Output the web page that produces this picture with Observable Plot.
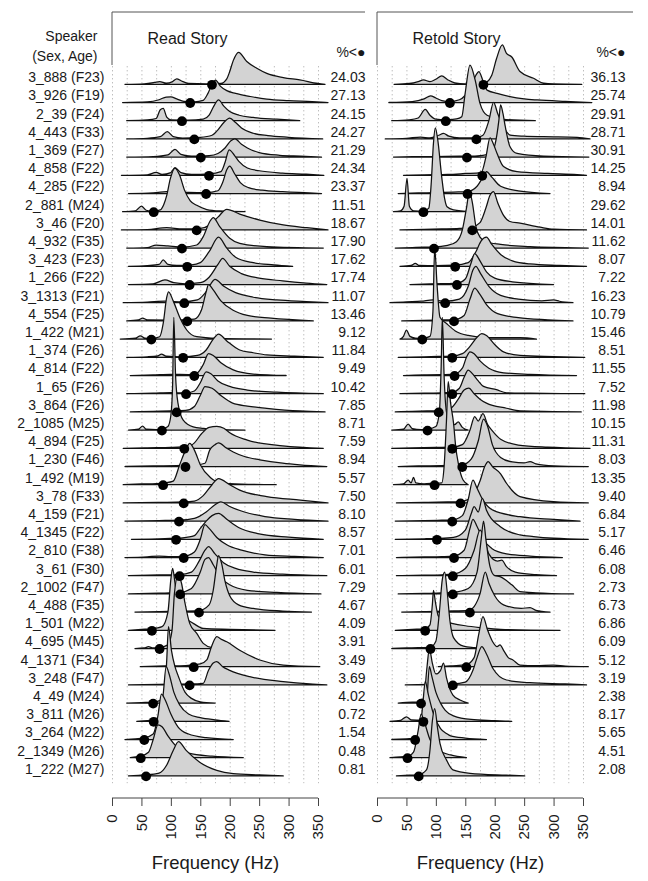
<!DOCTYPE html>
<html><head><meta charset="utf-8">
<script src="https://cdn.jsdelivr.net/npm/d3@7"></script>
<script src="https://cdn.jsdelivr.net/npm/@observablehq/plot@0.6"></script>
<style>
body{margin:0;background:#fff;}
#chart{position:relative;width:648px;height:881px;background:#fff;}
#chart svg{position:absolute;left:0;top:0;}
</style></head><body><div id="chart"></div>
<script>
const speakers = ["3_888 (F23)","3_926 (F19)","2_39 (F24)","4_443 (F33)","1_369 (F27)","4_858 (F22)","4_285 (F22)","2_881 (M24)","3_46 (F20)","4_932 (F35)","3_423 (F23)","1_266 (F22)","3_1313 (F21)","4_554 (F25)","1_422 (M21)","1_374 (F26)","4_814 (F22)","1_65 (F26)","3_864 (F26)","2_1085 (M25)","4_894 (F25)","1_230 (F46)","1_492 (M19)","3_78 (F33)","4_159 (F21)","4_1345 (F22)","2_810 (F38)","3_61 (F30)","2_1002 (F47)","4_488 (F35)","1_501 (M22)","4_695 (M45)","4_1371 (F34)","3_248 (F47)","4_49 (M24)","3_811 (M26)","3_264 (M22)","2_1349 (M26)","1_222 (M27)"];
const readPct = ["24.03","27.13","24.15","24.27","21.29","24.34","23.37","11.51","18.67","17.90","17.62","17.74","11.07","13.46","9.12","11.84","9.49","10.42","7.85","8.71","7.59","8.94","5.57","7.50","8.10","8.57","7.01","6.01","7.29","4.67","4.09","3.91","3.49","3.69","4.02","0.72","1.54","0.48","0.81"];
const retoldPct = ["36.13","25.74","29.91","28.71","30.91","14.25","8.94","29.62","14.01","11.62","8.07","7.22","16.23","10.79","15.46","8.51","11.55","7.52","11.98","10.15","11.31","8.03","13.35","9.40","6.84","5.17","6.46","6.08","2.73","6.73","6.86","6.09","5.12","3.19","2.38","8.17","5.65","4.51","2.08"];
const readDots = [169,132,118,139,150,164,159,70,143,118,127,131,122,127,66,120,139,125,109,84,122,124,86,121,113,108,121,114,115,147,67,80,138,131,69,70,54,48,57];
const retoldDots = [180,123,116,168,152,178,153,78,161,96,132,135,115,130,76,127,131,127,104,85,127,144,97,141,127,101,130,128,128,157,81,90,151,128,74,78,64,51,70];
const freqTicks = [0,50,100,150,200,250,300,350];
const gridTicks = [0,25,50,75,100,125,150,175,200,225,250,275,300,325,350];

// [frequency (Hz), relative density]
const readCurves = [
[[22,0],[55,0.3],[72,1],[81,1.5],[92,0.6],[103,1.5],[110,3],[118,1.8],[130,0.5],[160,0.3],[185,0.5],[195,3],[200,7],[206,13],[215,17.6],[229,12.5],[246,8.8],[263,6],[291,3.7],[319,2.4],[350,0.5],[362,0]],
[[18,0],[60,0.3],[80,1.5],[92,3],[100,3.1],[110,2],[122,0.6],[140,0.4],[155,1.2],[163,5],[170,10],[176,12.3],[184,9],[195,6.5],[210,5],[235,3.3],[263,1.8],[300,1],[340,0.5],[367,0]],
[[25,0],[60,0.4],[75,1.2],[82,6],[87,6.8],[93,2],[100,0.5],[130,0.3],[155,0.8],[165,3],[173,8],[181,11.4],[190,8],[200,5],[216,3],[240,1.8],[280,0.8],[319,0]],
[[25,0],[60,0.3],[82,1.2],[94,4],[104,1.2],[120,0.4],[150,0.8],[170,2],[180,5],[190,9],[200,11.4],[210,9],[220,6],[240,3.1],[265,1.8],[300,0.9],[358,0]],
[[25,0],[70,0.3],[95,1.2],[107,4.3],[117,1.5],[135,0.5],[165,0.8],[180,2],[192,5],[202,9],[209,10],[220,7],[230,5],[250,2.5],[285,1],[320,0.5],[356,0]],
[[16,0],[60,0.3],[75,1.6],[85,0.5],[100,1.5],[107,4.2],[117,1.5],[135,0.5],[165,0.8],[185,2],[192,7],[199,14],[208,11],[216,7.5],[230,4],[250,2.5],[290,1.2],[330,0.6],[360,0]],
[[28,0],[70,0.4],[100,1.2],[130,0.6],[160,0.5],[180,1.5],[188,6],[195,13],[200,15],[208,11],[218,6],[232,3.2],[255,1.8],[290,1],[356,0]],
[[18,0],[40,0.5],[50,3.1],[58,0.8],[70,0.3],[82,1],[88,4],[93,9],[99,18],[107,24],[115,20],[123,12],[133,6],[144,3.5],[161,1.2],[183,0.4],[226,0]],
[[16,0],[60,0.2],[93,1.2],[120,0.5],[150,0.8],[165,2.5],[180,7],[195,11.3],[217,8.7],[251,5.4],[291,2.7],[331,1.2],[367,0]],
[[25,0],[60,0.3],[75,1.7],[95,1.2],[120,0.6],[144,1.7],[155,6.3],[166,14.5],[172,16.8],[183,11.8],[200,5.4],[217,2.6],[263,0.8],[359,0]],
[[28,0],[60,0.4],[80,1],[87,3.5],[95,1],[110,0.5],[135,0.8],[150,2],[165,8],[181,16],[195,10],[210,5],[240,2],[275,0.8],[307,0]],
[[28,0],[70,0.4],[90,2.5],[105,1],[125,0.4],[150,1],[165,4],[180,11],[188,14.4],[200,10],[220,6],[250,3.5],[290,2],[330,0.8],[365,0]],
[[19,0],[60,0.3],[90,0.8],[120,0.5],[145,1.5],[160,6],[175,12.8],[190,9],[210,5.5],[240,3],[280,1.5],[330,0.6],[367,0]],
[[25,0],[45,0.5],[52,1.5],[60,0.5],[100,0.4],[140,1],[152,6],[160,16],[164,20],[172,17],[185,11],[205,6],[230,3],[270,1.5],[342,0]],
[[14,0],[40,0.5],[48,1.8],[56,0.5],[66,0.3],[81,1.3],[87,8.6],[93,23],[96,26],[104,21],[115,12],[127,5],[144,1.3],[178,0.4],[271,0]],
[[25,0],[60,0.3],[78,0.8],[84,1.8],[92,0.6],[120,0.3],[145,1],[160,4],[172,10],[181,12.8],[195,9],[217,4],[240,2.5],[263,1.3],[310,0.6],[359,0]],
[[31,0],[70,0.3],[100,0.6],[130,0.5],[145,1.5],[155,6],[164,12],[172,11],[185,7],[206,3.1],[240,0.8],[296,0]],
[[25,0],[70,0.3],[100,0.6],[125,0.4],[140,1.5],[150,6],[160,12],[168,11],[180,7],[200,4],[230,2],[280,0.8],[359,0]],
[[31,0],[70,0.3],[100,0.5],[125,0.8],[140,3],[150,9],[158,13.9],[170,13],[185,9],[205,4.8],[230,3.2],[263,2],[319,0.5],[362,0]],
[[28,0],[45,0.5],[52,2.2],[58,0.5],[75,0.3],[84,0.5],[95,2],[100,8],[103,25],[105,62],[108,30],[112,15],[121,5.5],[138,1.8],[155,1],[180,0.4],[226,0]],
[[19,0],[60,0.3],[100,0.5],[130,1],[140,3],[152,8],[165,11.5],[178,12],[190,11],[200,8.5],[230,4.5],[290,1.3],[359,0]],
[[22,0],[70,0.3],[110,0.5],[140,0.8],[158,1.8],[166,9],[175,12],[181,13],[195,10],[206,8],[225,5.5],[251,3.7],[290,1.8],[319,0.9],[365,0]],
[[19,0],[50,0.4],[75,0.6],[90,1],[104,2],[115,11],[125,19],[132,22.7],[140,19],[150,11],[167,4],[185,1],[220,0.3],[279,0]],
[[19,0],[80,0.3],[121,0.5],[140,1],[155,4],[170,10],[181,13.4],[200,10],[217,7],[263,3.5],[320,1.5],[367,0]],
[[22,0],[80,0.3],[113,0.5],[140,1.5],[160,5],[175,9],[185,10.5],[200,8],[225,5],[260,2.5],[310,1],[367,0]],
[[33,0],[90,0.4],[120,0.8],[140,2],[150,6],[160,10],[170,13],[181,14.3],[195,11],[215,6.5],[250,3],[300,1.2],[359,0]],
[[22,0],[60,0.4],[80,0.8],[100,0.5],[121,0.6],[140,3],[150,10],[158,18],[165,16],[178,11],[195,7],[220,4],[260,1.5],[310,0.6],[359,0]],
[[28,0],[80,0.4],[114,0.6],[135,2],[148,8],[158,14],[164,16],[175,12],[190,7],[210,4],[240,2],[290,0.8],[365,0]],
[[28,0],[80,0.4],[115,0.8],[135,3],[150,12],[158,19],[164,20],[172,16],[185,9],[200,5],[230,2],[280,0.8],[355,0]],
[[39,0],[80,0.3],[120,0.5],[147,0.8],[165,4],[172,12],[178,26],[181,31],[186,27],[192,17],[200,9],[215,4],[240,2],[290,0.6],[339,0]],
[[28,0],[50,0.5],[67,0.8],[85,2],[95,10],[100,28],[103,34],[107,26],[112,14],[120,6],[127,5.7],[138,3.8],[155,1],[200,0.5],[277,0]],
[[39,0],[55,0.3],[62,1],[70,0.3],[80,0.5],[95,2],[102,10],[106,30],[112,40],[118,36],[124,25],[132,13.8],[144,8.3],[155,2.8],[170,0.5],[195,0]],
[[48,0],[90,0.4],[125,0.6],[150,1.5],[161,3.7],[169,11],[178,16.5],[186,15],[195,13.7],[217,9],[251,3.7],[291,0.9],[353,0]],
[[28,0],[80,0.3],[131,0.5],[155,0.9],[164,8],[172,12],[178,12.8],[188,10],[200,8],[234,4.5],[291,1.8],[336,0.5],[365,0]],
[[25,0],[50,0.3],[69,0.5],[85,2],[90,5.3],[93,23.6],[96,42],[101,29],[107,20],[113,14.5],[124,6],[135,2.6],[150,0.7],[175,0]],
[[42,0],[60,0.4],[70,0.6],[80,3],[87,15],[92,30],[97,26],[105,16],[115,9],[130,4],[150,2],[175,0.8],[199,0]],
[[22,0],[40,0.4],[54,0.8],[70,3],[78,13],[84,25],[90,22],[100,14],[112,7],[130,3],[160,1],[206,0]],
[[31,0],[40,0.4],[48,0.8],[62,3],[70,10],[78,18],[85,17],[95,12],[110,6],[130,2.5],[170,0.8],[223,0]],
[[28,0],[45,0.3],[57,0.5],[80,1.5],[93,6],[104,14],[113,18.8],[126,14],[149,7.5],[178,3],[206,1.2],[250,0.5],[291,0]]
];
const retoldCurves = [
[[29,0],[55,0.5],[70,1.5],[79,2.4],[90,1.5],[100,2.8],[110,4.6],[120,2.5],[132,0.8],[150,0.3],[180,0.3],[186,1],[195,5],[203,14],[213,21.6],[220,17],[229,15],[243,7],[266,3.3],[283,0.6],[300,0.2],[348,0]],
[[20,0],[60,0.5],[80,2],[91,3.7],[100,2.5],[110,1],[123,0.5],[140,1.5],[150,4],[160,9],[168,15],[173,17],[180,12],[187,6.8],[204,5],[226,3.2],[250,2],[272,1.4],[320,0.6],[365,0]],
[[25,0],[55,0.5],[70,1.5],[82,6.2],[90,3],[100,0.8],[116,0.5],[135,1],[144,2.2],[150,15.6],[158,30.6],[167,22],[175,9.5],[187,3],[215,0.7],[269,0]],
[[14,0],[50,0.3],[74,1],[90,0.5],[105,2],[113,3],[122,1.5],[140,0.5],[167,0.5],[180,2],[190,10],[198,20],[205,14],[215,6.7],[226,2.1],[250,1.5],[283,1.2],[340,0.9],[362,0]],
[[28,0],[60,0.2],[100,0.3],[140,0.5],[153,0.5],[180,1],[195,3],[201,7.5],[207,20],[210,28.7],[214,24],[218,16.7],[226,5.7],[238,2],[283,0.5],[360,0]],
[[45,0],[80,0.3],[120,0.5],[150,1],[177,1.5],[185,10],[192,20.5],[198,17],[204,12],[215,4.8],[238,2],[290,1],[340,0.4],[356,0]],
[[36,0],[70,0.3],[100,0.5],[130,0.8],[153,1],[170,4],[180,9],[186,12],[195,9],[210,4],[240,1.5],[294,0]],
[[28,0],[40,0.5],[46,3],[51,18.3],[55,3],[62,0.5],[78,0.3],[88,2],[92,15],[96,38],[99,46],[103,40],[110,19],[115,7],[119,2.7],[130,1],[160,0]],
[[39,0],[80,0.3],[110,0.5],[140,0.8],[161,1.5],[175,4],[185,12],[192,19],[198,21],[205,15],[215,8],[226,4.6],[243,3.7],[277,1.5],[300,0.4],[356,0]],
[[31,0],[60,0.3],[80,0.5],[96,0.6],[120,1.5],[135,3.5],[145,10],[152,22],[157,31],[162,25],[168,12],[175,6],[185,3.5],[210,2],[260,0.8],[320,0.3],[359,0]],
[[39,0],[58,0.5],[65,1.6],[72,0.5],[100,0.4],[132,0.6],[155,2],[168,8],[177,14],[186,16],[195,12],[210,6.5],[230,3],[260,1.3],[310,0.5],[356,0]],
[[56,0],[90,0.3],[120,0.5],[135,0.6],[150,3],[160,12],[166,17],[175,13],[186,7],[200,3.5],[230,1.5],[300,0]],
[[22,0],[50,0.5],[75,0.8],[95,1.5],[115,0.8],[140,2],[155,9],[163,18],[168,20],[176,16],[190,9],[210,4],[240,2],[280,1],[300,1.5],[310,0.8],[333,0]],
[[42,0],[80,0.3],[110,0.5],[130,0.6],[148,3],[158,12],[166,18],[174,15],[186,9],[205,4],[240,1.8],[290,0.6],[333,0]],
[[39,0],[45,1.5],[50,5],[56,1.5],[65,0.5],[76,0.3],[90,1.5],[95,15],[98,50],[102,30],[107,12],[118,8.6],[133,4.5],[155,2],[190,0.8],[243,0.8],[271,0]],
[[36,0],[80,0.3],[110,0.5],[127,0.6],[145,2],[158,6],[170,11],[178,13],[186,12],[200,7],[215,3],[243,1],[300,0.4],[353,0]],
[[45,0],[80,0.3],[110,0.5],[131,0.7],[145,4],[152,10],[158,13],[165,12],[175,8],[190,4],[215,1.5],[260,0.6],[339,0]],
[[39,0],[80,0.3],[110,0.5],[127,0.7],[140,3],[148,9],[155,13],[162,11],[172,7],[181,4],[203,2.2],[220,0.5],[260,0.3],[353,0]],
[[31,0],[60,0.3],[85,0.5],[104,0.6],[125,2],[138,7],[148,12],[156,13],[165,10],[175,7],[186,4.8],[220,2],[243,0.5],[300,0.2],[347,0]],
[[25,0],[45,0.5],[53,3.3],[60,0.8],[75,0.3],[85,0.5],[100,2],[106,10],[109,35],[111,62],[114,30],[118,10],[125,4],[132,3],[138,4.5],[145,1.5],[155,0]],
[[25,0],[60,0.3],[100,0.5],[127,0.6],[145,2],[158,10],[166,17.4],[172,15],[180,19],[188,13],[195,10],[210,5],[240,1.8],[290,0.6],[362,0]],
[[36,0],[70,0.3],[110,0.5],[144,0.8],[160,4],[172,14],[181,26],[188,22],[196,12],[210,5],[230,2.5],[250,2],[260,2.7],[270,1.5],[300,0.4],[359,0]],
[[28,0],[45,0.5],[53,2.5],[58,1],[62,4],[66,1],[80,0.5],[97,0.8],[110,1],[114,10],[118,35],[121,56.6],[125,45],[130,34],[134,20],[138,12],[146,2.7],[155,0]],
[[33,0],[80,0.3],[120,0.5],[141,0.7],[160,3],[175,12],[183,20],[189,22.7],[196,20],[210,16],[220,10.8],[243,3.5],[300,0.7],[359,0]],
[[31,0],[80,0.3],[110,0.5],[127,0.6],[145,3],[155,12],[163,22.5],[170,18],[180,11.5],[197,6],[243,2.4],[300,0.9],[345,0]],
[[31,0],[80,0.3],[101,0.5],[130,1],[150,5],[160,14],[165,18],[172,15],[179,22.5],[186,16],[209,7],[243,2.4],[266,1.5],[300,0.6],[359,0]],
[[33,0],[80,0.3],[110,0.5],[130,0.8],[148,4],[158,16],[163,21],[170,17],[180,10],[195,5],[220,2],[260,0.8],[315,0]],
[[33,0],[80,0.3],[110,0.5],[128,0.8],[150,4],[165,14],[175,25],[181,22],[190,12],[205,8],[212,8.5],[220,5],[235,2],[270,0.6],[305,0]],
[[36,0],[80,0.3],[110,0.5],[128,0.8],[155,3],[170,12],[177,30],[181,40],[185,30],[192,15],[200,10],[209,9.5],[229,5],[243,1.3],[270,0.6],[334,0]],
[[42,0],[80,0.3],[120,0.6],[157,1],[165,3],[175,10],[184,22],[190,16],[200,9],[215,4],[245,2],[260,2.5],[270,1],[294,0]],
[[31,0],[60,0.5],[81,0.8],[90,3],[94,14],[96,22],[99,16],[104,8],[112,5],[125,4],[150,2.5],[175,1.5],[210,0.5],[311,0]],
[[25,0],[50,0.3],[70,0.5],[90,0.6],[100,4],[106,20],[111,38],[115,42],[119,32],[124,15],[130,6],[147,1.3],[165,0.5],[190,0]],
[[104,0],[125,0.5],[151,1],[165,5],[173,18],[180,27.5],[188,20],[196,14],[204,11],[209,12],[215,9],[223,5],[231,3.7],[243,0.9],[270,0.6],[300,0.8],[320,0.3],[359,0]],
[[48,0],[90,0.3],[128,0.5],[150,1.5],[163,8],[170,15],[178,21],[186,17],[197,9],[220,2.7],[260,1.2],[320,0.5],[356,0]],
[[36,0],[60,0.5],[74,0.6],[80,4],[85,20],[89,30],[94,22],[100,16],[108,18],[113,22],[118,14],[129,4.4],[141,1.7],[155,0]],
[[22,0],[40,0.5],[50,2.5],[58,0.8],[77,0.6],[84,8],[89,30],[93,25],[100,16],[108,10],[116,6],[130,3],[160,1],[200,0.4],[229,0]],
[[25,0],[50,0.4],[64,0.6],[72,3],[78,20],[82,32],[87,25],[96,14],[108,6],[118,3.3],[125,2],[150,0.8],[186,0]],
[[22,0],[40,0.5],[51,0.6],[62,3],[70,15],[75,24],[80,20],[90,10],[105,4],[125,1.5],[152,0]],
[[33,0],[55,0.4],[70,0.6],[84,3.3],[90,14.2],[94,30],[98,37],[103,26],[107,17.9],[118,8.8],[129,3.3],[158,1.4],[220,0.4],[251,0]]
];

const W = 648, H = 881;
const FONT = "'Liberation Sans', Arial, Helvetica, sans-serif";
const ROW_TOP = 84.3, ROW_BOTTOM = 775.9;
const DENS = 0.1; // one density unit = a tenth of the row spacing

function panel({title, curves, dots, pct, x0, x1, labels, pctDx, boxRight}) {
  const marks = [
    Plot.ruleX(gridTicks, {y1: -1, y2: 38.4, stroke: "#b8b8b8", strokeWidth: 1, strokeDasharray: "1.3,2.7"})
  ];
  curves.forEach((pts, i) => {
    const rows = pts.map(([hz, d]) => ({hz, base: i, top: i - d * DENS}));
    marks.push(Plot.areaY(rows, {x: "hz", y1: "base", y2: "top", curve: "monotone-x",
      fill: "#d3d3d3", stroke: "#111", strokeWidth: 1.25, strokeLinejoin: "round"}));
  });
  marks.push(Plot.dot(dots, {x: d => d, y: (d, i) => i, r: 4.9, fill: "#000", stroke: "none"}));
  if (labels) {
    marks.push(Plot.text(speakers, {y: (d, i) => i, frameAnchor: "left", dx: -8, dy: -7, textAnchor: "end", fontSize: 14}));
    marks.push(Plot.text(["Speaker"], {frameAnchor: "top-left", dx: -15, dy: 19, textAnchor: "end", fontSize: 14}));
    marks.push(Plot.text(["(Sex, Age)"], {frameAnchor: "top-left", dx: -15, dy: 39, textAnchor: "end", fontSize: 14}));
  }
  marks.push(Plot.text(pct, {y: (d, i) => i, frameAnchor: "right", dx: pctDx, dy: -7, textAnchor: "end", fontSize: 14}));
  marks.push(Plot.text(["%<\u25CF"], {frameAnchor: "top-right", dx: pctDx, dy: 35, textAnchor: "end", fontSize: 14}));
  marks.push(Plot.text([title], {frameAnchor: "top-left", dx: 35, dy: 20, textAnchor: "start", fontSize: 16}));
  marks.push(Plot.axisX({ticks: freqTicks, tickRotate: -90, tickSize: 8, tickPadding: 8, fontSize: 15, label: null, stroke: "#444"}));
  marks.push(Plot.text(["Frequency (Hz)"], {frameAnchor: "bottom", dy: 70, fontSize: 18.5}));

  const plot = Plot.plot({
    width: W, height: H,
    marginLeft: x0, marginRight: W - x1, marginTop: 12, marginBottom: 83,
    x: {domain: [0, 350], range: [x0, x1], axis: null, label: null},
    y: {domain: [0, 38], range: [ROW_TOP, ROW_BOTTOM], axis: null},
    style: {background: "transparent", fontFamily: FONT, fontSize: "14px", color: "#1a1a1a", overflow: "visible"},
    marks
  });
  // panel box segments and axis line (decoration)
  const xs = plot.scale("x");
  const svg = d3.select(plot);
  const g = svg.append("g").attr("stroke", "#555").attr("stroke-width", 1).attr("fill", "none");
  g.append("line").attr("x1", xs.apply(0)).attr("x2", xs.apply(350)).attr("y1", H - 83).attr("y2", H - 83).attr("stroke", "#444");
  g.append("line").attr("x1", x0).attr("x2", boxRight).attr("y1", 12).attr("y2", 12);
  g.append("line").attr("x1", x0).attr("x2", x0).attr("y1", 12).attr("y2", 65);
  return plot;
}

const chart = document.getElementById("chart");
chart.appendChild(panel({title: "Read Story", curves: readCurves, dots: readDots, pct: readPct, x0: 112, x1: 318, labels: true, pctDx: 47, boxRight: 365}));
chart.appendChild(panel({title: "Retold Story", curves: retoldCurves, dots: retoldDots, pct: retoldPct, x0: 377, x1: 583, labels: false, pctDx: 42, boxRight: 633}));
</script></body></html>
